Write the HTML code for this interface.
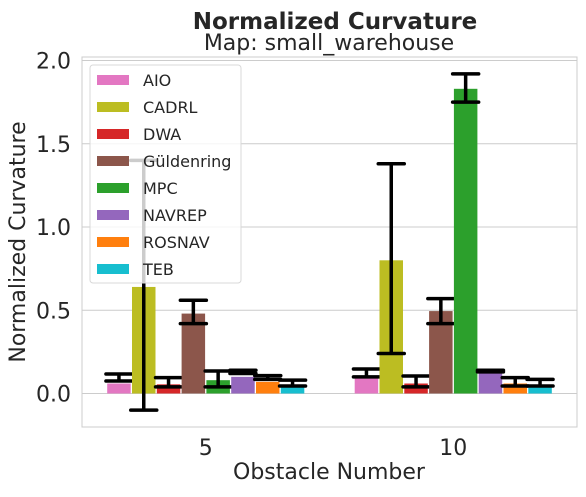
<!DOCTYPE html>
<html><head><meta charset="utf-8"><style>
body{margin:0;background:#fff;font-family:"Liberation Sans","DejaVu Sans",sans-serif}
svg text{font-family:"DejaVu Sans","Liberation Sans",sans-serif;fill:#262626}
</style></head><body>
<svg id="chart" width="586" height="492" xmlns="http://www.w3.org/2000/svg"></svg>
<script>
const categories=["5","10"];
const methods=["AIO","CADRL","DWA","Güldenring","MPC","NAVREP","ROSNAV","TEB"];
const colors=["#e377c2","#bcbd22","#d62728","#8c564b","#2ca02c","#9467bd","#ff7f0e","#17becf"];
const values5=[0.06,0.64,0.055,0.48,0.08,0.10,0.07,0.04];
const lo5=[0.075,-0.1,0.04,0.42,0.04,0.12,0.085,0.045];
const hi5=[0.117,1.4,0.095,0.56,0.135,0.14,0.107,0.08];
const values10=[0.09,0.80,0.06,0.495,1.83,0.13,0.06,0.04];
const lo10=[0.10,0.24,0.04,0.42,1.75,0.13,0.045,0.045];
const hi10=[0.147,1.38,0.105,0.57,1.92,0.14,0.095,0.085];
const yTicks=[0,0.5,1.0,1.5,2.0];
const yTickLabels=["0.0","0.5","1.0","1.5","2.0"];

const svg=document.getElementById('chart');
const NS="http://www.w3.org/2000/svg";
function mk(t,a,p){const e=document.createElementNS(NS,t);for(const k in a)e.setAttribute(k,a[k]);(p||svg).appendChild(e);return e;}
const L=82,R=577,T=57,B=427;
const y0=393.5,ppu=166.5;
const Y=v=>y0-v*ppu;
const step=(R-L)/2;
const X=i=>L+step*(i+0.5);
const pitch=24.8,bw=23.5;

let e=mk('rect',{x:L,y:T,width:R-L,height:B-T,fill:'#fff',stroke:'#cccccc','stroke-width':1});


yTicks.forEach((v,i)=>{
  let g=mk('line',{x1:L,x2:R,y1:Y(v),y2:Y(v),stroke:'#cccccc','stroke-width':1});
  
  
  let t=mk('text',{x:L-11,y:Y(v)+8,'text-anchor':'end','font-size':22});
  t.textContent=yTickLabels[i];
  
  
});
categories.forEach((c,i)=>{
  let t=mk('text',{x:X(i),y:455,'text-anchor':'middle','font-size':22});
  t.textContent=c;
  
  
});
const series=[[values5,lo5,hi5],[values10,lo10,hi10]];
series.forEach((s,ci)=>{
  methods.forEach((m,j)=>{
    const cx=X(ci)+(j-3.5)*pitch;
    const v=s[0][j];
    let r=mk('rect',{x:cx-bw/2,y:Math.min(Y(v),y0),width:bw,height:Math.abs(Y(v)-y0),fill:colors[j]});
    
    
    const g=mk('g',{stroke:'#000','stroke-width':3.5});
    
    
    mk('line',{x1:cx,x2:cx,y1:Y(s[1][j]),y2:Y(s[2][j])},g);
    mk('line',{x1:cx-13,x2:cx+13,y1:Y(s[1][j]),y2:Y(s[1][j]),'stroke-linecap':'round'},g);
    mk('line',{x1:cx-13,x2:cx+13,y1:Y(s[2][j]),y2:Y(s[2][j]),'stroke-linecap':'round'},g);
  });
});
const lg=mk('g',{});


mk('rect',{x:90,y:65,width:151,height:218,rx:3,fill:'#fff','fill-opacity':0.8,stroke:'#d8d8d8'},lg);
methods.forEach((m,j)=>{
  const yy=80+j*27;
  const g=mk('g',{},lg);
  
  
  mk('rect',{x:97,y:yy-5,width:32,height:10,fill:colors[j]},g);
  const t=mk('text',{x:143,y:yy+6,'font-size':16},g);
  t.textContent=m;
});
let t1=mk('text',{x:335,y:29,'text-anchor':'middle','font-size':23,'font-weight':'bold'});t1.textContent="Normalized Curvature";

let t2=mk('text',{x:329,y:50,'text-anchor':'middle','font-size':22});t2.textContent="Map: small_warehouse";

let t3=mk('text',{x:329,y:479,'text-anchor':'middle','font-size':22});t3.textContent="Obstacle Number";

let t4=mk('text',{x:25,y:242,'text-anchor':'middle','font-size':22,transform:'rotate(-90 25 242)'});t4.textContent="Normalized Curvature";

</script>
</body></html>
